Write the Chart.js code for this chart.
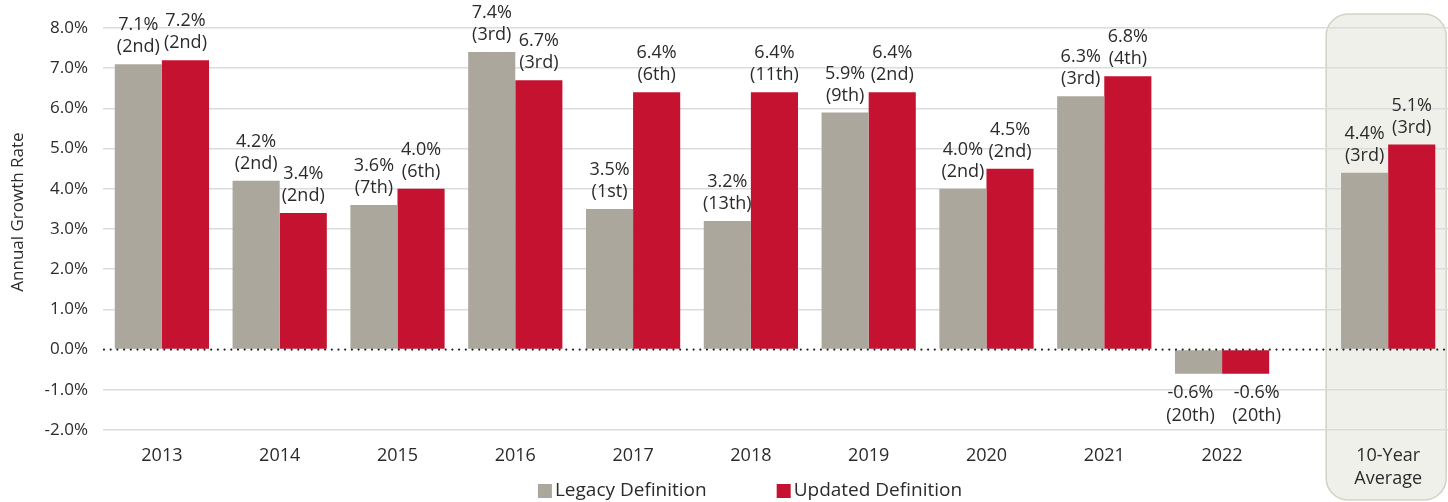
<!DOCTYPE html>
<html>
<head>
<meta charset="utf-8">
<script src="https://cdn.jsdelivr.net/npm/chart.js@4.4.1/dist/chart.umd.min.js"></script>
<style>
  html, body { margin: 0; padding: 0; background: #fff; }
  #wrap { width: 1448px; height: 502px; }
</style>
</head>
<body>
<div id="wrap"><canvas id="growth"></canvas></div>
<script>
// Categories and their slot on the x axis (the average sits a bit apart)
const categories = ["2013", "2014", "2015", "2016", "2017", "2018", "2019", "2020", "2021", "2022", ["10-Year", "Average"]];
const slots = [0, 1, 2, 3, 4, 5, 6, 7, 8, 9, 10.41];

const legacyValues = [7.1, 4.2, 3.6, 7.4, 3.5, 3.2, 5.9, 4.0, 6.3, -0.6, 4.4];
const legacyRanks = ["2nd", "2nd", "7th", "3rd", "1st", "13th", "9th", "2nd", "3rd", "20th", "3rd"];
const updatedValues = [7.2, 3.4, 4.0, 6.7, 6.4, 6.4, 6.4, 4.5, 6.8, -0.6, 5.1];
const updatedRanks = ["2nd", "2nd", "6th", "3rd", "6th", "11th", "2nd", "2nd", "4th", "20th", "3rd"];

const yTicks = [8, 7, 6, 5, 4, 3, 2, 1, 0, -1, -2];
const yTitle = "Annual Growth Rate";

const FONT = "'Open Sans', sans-serif";
const TEXT = "#2b2b2b";
const GRAY = "#aba79c";
const RED = "#c41230";

const ranks = [legacyRanks, updatedRanks];
// labels under negative bars get pushed apart so they don't collide
const negNudge = [-8, 11];

// rounded panel behind the 10-year average
const avgPanel = {
  id: "avgPanel",
  beforeDraw(chart) {
    const ctx = chart.ctx;
    const x = chart.scales.x.getPixelForValue(slots[slots.length - 1]);
    const left = x - 62, right = x + 58, top = 14, bottom = 500, r = 22;
    ctx.save();
    ctx.beginPath();
    ctx.roundRect(left, top, right - left, bottom - top, r);
    ctx.fillStyle = "#f0f0eb";
    ctx.fill();
    ctx.lineWidth = 1.5;
    ctx.strokeStyle = "#d3d2c2";
    ctx.stroke();
    ctx.restore();
  }
};

// dotted zero line, value labels, axis title and legend
const extras = {
  id: "extras",
  afterDatasetsDraw(chart) {
    const ctx = chart.ctx;
    const area = chart.chartArea;
    const y0 = chart.scales.y.getPixelForValue(0);

    ctx.save();
    ctx.beginPath();
    ctx.setLineDash([0, 6.7]);
    ctx.lineCap = "round";
    ctx.lineWidth = 2.2;
    ctx.strokeStyle = "#222";
    ctx.moveTo(area.left + 1, y0);
    ctx.lineTo(area.right, y0);
    ctx.stroke();
    ctx.restore();

    ctx.save();
    ctx.font = "18px " + FONT;
    ctx.fillStyle = TEXT;
    ctx.textAlign = "center";
    ctx.textBaseline = "middle";
    chart.data.datasets.forEach((ds, di) => {
      chart.getDatasetMeta(di).data.forEach((bar, i) => {
        const v = ds.data[i].y;
        const line1 = v.toFixed(1) + "%";
        const line2 = "(" + ranks[di][i] + ")";
        if (v >= 0) {
          ctx.fillText(line1, bar.x, bar.y - 39);
          ctx.fillText(line2, bar.x, bar.y - 17);
        } else {
          const x = bar.x + negNudge[di];
          ctx.fillText(line1, x, bar.y + 19);
          ctx.fillText(line2, x, bar.y + 42);
        }
      });
    });
    ctx.restore();
  },
  afterDraw(chart) {
    const ctx = chart.ctx;

    // y axis title
    ctx.save();
    ctx.font = "17px " + FONT;
    ctx.fillStyle = TEXT;
    ctx.textAlign = "center";
    ctx.textBaseline = "middle";
    ctx.translate(18, 212);
    ctx.rotate(-Math.PI / 2);
    ctx.fillText(yTitle, 0, 0);
    ctx.restore();

    // legend
    const items = chart.data.datasets.map(ds => ({ text: ds.label, color: ds.backgroundColor }));
    ctx.save();
    ctx.font = "19px " + FONT;
    ctx.textBaseline = "middle";
    const box = 14, gap = 3, spacing = 70, y = 491;
    const widths = items.map(it => box + gap + ctx.measureText(it.text).width);
    const total = widths.reduce((a, b) => a + b, 0) + spacing * (items.length - 1);
    let x = 750 - total / 2;
    items.forEach((it, i) => {
      ctx.fillStyle = it.color;
      ctx.fillRect(x, y - box / 2, box, box);
      ctx.fillStyle = TEXT;
      ctx.fillText(it.text, x + box + gap, y);
      x += widths[i] + spacing;
    });
    ctx.restore();
  }
};

new Chart(document.getElementById("growth"), {
  type: "bar",
  data: {
    datasets: [
      {
        label: "Legacy Definition",
        data: slots.map((s, i) => ({ x: s, y: legacyValues[i] })),
        backgroundColor: GRAY
      },
      {
        label: "Updated Definition",
        data: slots.map((s, i) => ({ x: s, y: updatedValues[i] })),
        backgroundColor: RED
      }
    ]
  },
  options: {
    responsive: true,
    maintainAspectRatio: false,
    animation: false,
    layout: { padding: { top: 28, right: 0, bottom: 0, left: 0 } },
    datasets: { bar: { categoryPercentage: 0.8, barPercentage: 1.0 } },
    plugins: {
      legend: { display: false },
      tooltip: { enabled: false }
    },
    scales: {
      x: {
        type: "linear",
        offset: false,
        min: -0.5,
        max: 10.918,
        grid: { display: false },
        border: { display: false },
        afterBuildTicks: scale => { scale.ticks = slots.map(v => ({ value: v })); },
        afterFit: scale => { scale.height = 72; },
        ticks: {
          autoSkip: false,
          maxRotation: 0,
          padding: 7,
          color: TEXT,
          font: { family: FONT, size: 18, lineHeight: 1.25 },
          callback: (v, i) => categories[i]
        }
      },
      y: {
        min: -2,
        max: 8,
        afterBuildTicks: scale => { scale.ticks = yTicks.map(v => ({ value: v })); },
        afterFit: scale => { scale.width = 103; },
        grid: {
          color: ctx => ctx.tick && ctx.tick.value === 0 ? "rgba(0,0,0,0)" : "#dcdcdc",
          lineWidth: 1.5,
          drawTicks: false
        },
        border: { display: false },
        ticks: {
          padding: 15,
          color: TEXT,
          font: { family: FONT, size: 17 },
          callback: v => v.toFixed(1) + "%"
        }
      }
    }
  },
  plugins: [avgPanel, extras]
});
</script>
</body>
</html>
